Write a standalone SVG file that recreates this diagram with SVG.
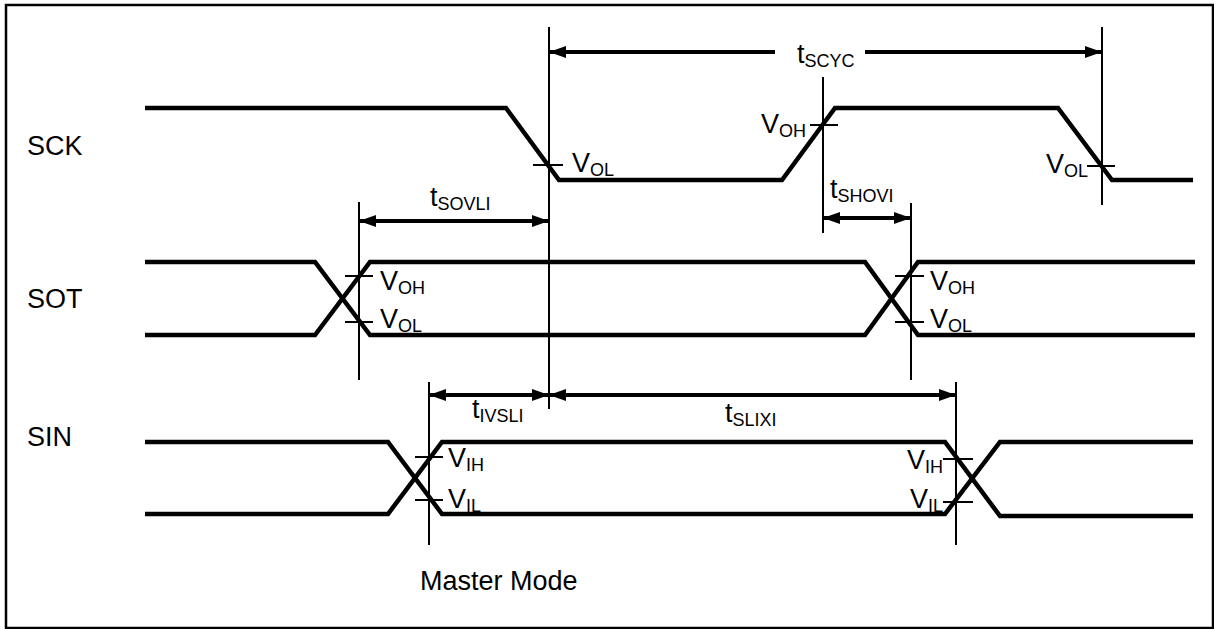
<svg xmlns="http://www.w3.org/2000/svg" width="1214" height="629" viewBox="0 0 1214 629">
<style>
.wave{fill:none;stroke:#000;stroke-width:4.5;stroke-linejoin:miter}
.ref{stroke:#000;stroke-width:2;fill:none}
.tick{stroke:#000;stroke-width:2}
.dim{stroke:#000;stroke-width:4;fill:none}
text{font-family:"Liberation Sans",Arial,sans-serif;font-size:27px;fill:#000}
.sub{font-size:18px}
</style>
<defs>
<marker id="ah" markerUnits="userSpaceOnUse" markerWidth="17" markerHeight="12" refX="17" refY="6" orient="auto-start-reverse">
<path d="M0,0 L17,6 L0,12 z" fill="#000"/>
</marker>
</defs>
<rect x="6" y="5" width="1207" height="623" fill="#fff" stroke="#000" stroke-width="2.5"/>

<g id="labels">
<text x="27" y="155">SCK</text>
<text x="27" y="308">SOT</text>
<text x="27" y="446">SIN</text>
<text x="420" y="590">Master Mode</text>
</g>

<g id="sck">
<polyline class="wave" points="145,108 506,108 559,180 782,180 835,108 1058,108 1112,180 1193,180"/>
<line class="tick" x1="533" y1="165" x2="563" y2="165"/>
<line class="tick" x1="810" y1="125" x2="838" y2="125"/>
<line class="tick" x1="1087" y1="166" x2="1115" y2="166"/>
<text x="572" y="172">V<tspan class="sub" dy="4">OL</tspan></text>
<text x="806" y="133" text-anchor="end">V<tspan class="sub" dy="4">OH</tspan></text>
<text x="1088" y="173" text-anchor="end">V<tspan class="sub" dy="4">OL</tspan></text>
</g>

<g id="sot">
<polyline class="wave" points="145,262 315,262 370,335 865,335 918,262 1195,262"/>
<polyline class="wave" points="145,335 315,335 370,262 865,262 918,335 1195,335"/>
<line class="tick" x1="345" y1="276" x2="373" y2="276"/>
<line class="tick" x1="345" y1="322" x2="373" y2="322"/>
<line class="tick" x1="895" y1="276" x2="924" y2="276"/>
<line class="tick" x1="895" y1="322" x2="924" y2="322"/>
<text x="380" y="290">V<tspan class="sub" dy="4">OH</tspan></text>
<text x="380" y="328">V<tspan class="sub" dy="4">OL</tspan></text>
<text x="930" y="290">V<tspan class="sub" dy="4">OH</tspan></text>
<text x="930" y="328">V<tspan class="sub" dy="4">OL</tspan></text>
</g>

<g id="sin">
<polyline class="wave" points="145,442 388,442 442,514 945,514 1000,442 1193,442"/>
<polyline class="wave" points="145,514 388,514 442,442 945,442 1000,516 1193,516"/>
<line class="tick" x1="415" y1="457" x2="443" y2="457"/>
<line class="tick" x1="415" y1="500" x2="443" y2="500"/>
<line class="tick" x1="943" y1="459" x2="973" y2="459"/>
<line class="tick" x1="943" y1="502" x2="973" y2="502"/>
<text x="448" y="467">V<tspan class="sub" dy="4">IH</tspan></text>
<text x="448" y="508">V<tspan class="sub" dy="4">IL</tspan></text>
<text x="943" y="469" text-anchor="end">V<tspan class="sub" dy="4">IH</tspan></text>
<text x="943" y="508" text-anchor="end">V<tspan class="sub" dy="4">IL</tspan></text>
</g>

<g id="connectors">
<line class="ref" x1="549" y1="27" x2="549" y2="409"/>
<line class="ref" x1="1102" y1="27" x2="1102" y2="205"/>
<line class="ref" x1="823" y1="77" x2="823" y2="233"/>
<line class="ref" x1="359" y1="202" x2="359" y2="380"/>
<line class="ref" x1="911" y1="203" x2="911" y2="380"/>
<line class="ref" x1="429" y1="382" x2="429" y2="545"/>
<line class="ref" x1="956" y1="382" x2="956" y2="545"/>

<line class="dim" x1="775" y1="52" x2="549" y2="52" marker-end="url(#ah)"/>
<line class="dim" x1="865" y1="52" x2="1102" y2="52" marker-end="url(#ah)"/>
<line class="dim" x1="359" y1="221" x2="549" y2="221" marker-start="url(#ah)" marker-end="url(#ah)"/>
<line class="dim" x1="823" y1="218" x2="911" y2="218" marker-start="url(#ah)" marker-end="url(#ah)"/>
<line class="dim" x1="429" y1="395" x2="549" y2="395" marker-start="url(#ah)" marker-end="url(#ah)"/>
<line class="dim" x1="549" y1="395" x2="956" y2="395" marker-start="url(#ah)" marker-end="url(#ah)"/>
</g>

<g id="timing-labels">
<text x="797" y="63">t<tspan class="sub" dy="4">SCYC</tspan></text>
<text x="430" y="206">t<tspan class="sub" dy="4">SOVLI</tspan></text>
<text x="830" y="198">t<tspan class="sub" dy="4">SHOVI</tspan></text>
<text x="472" y="418">t<tspan class="sub" dy="4">IVSLI</tspan></text>
<text x="725" y="422">t<tspan class="sub" dy="4">SLIXI</tspan></text>
</g>
</svg>
